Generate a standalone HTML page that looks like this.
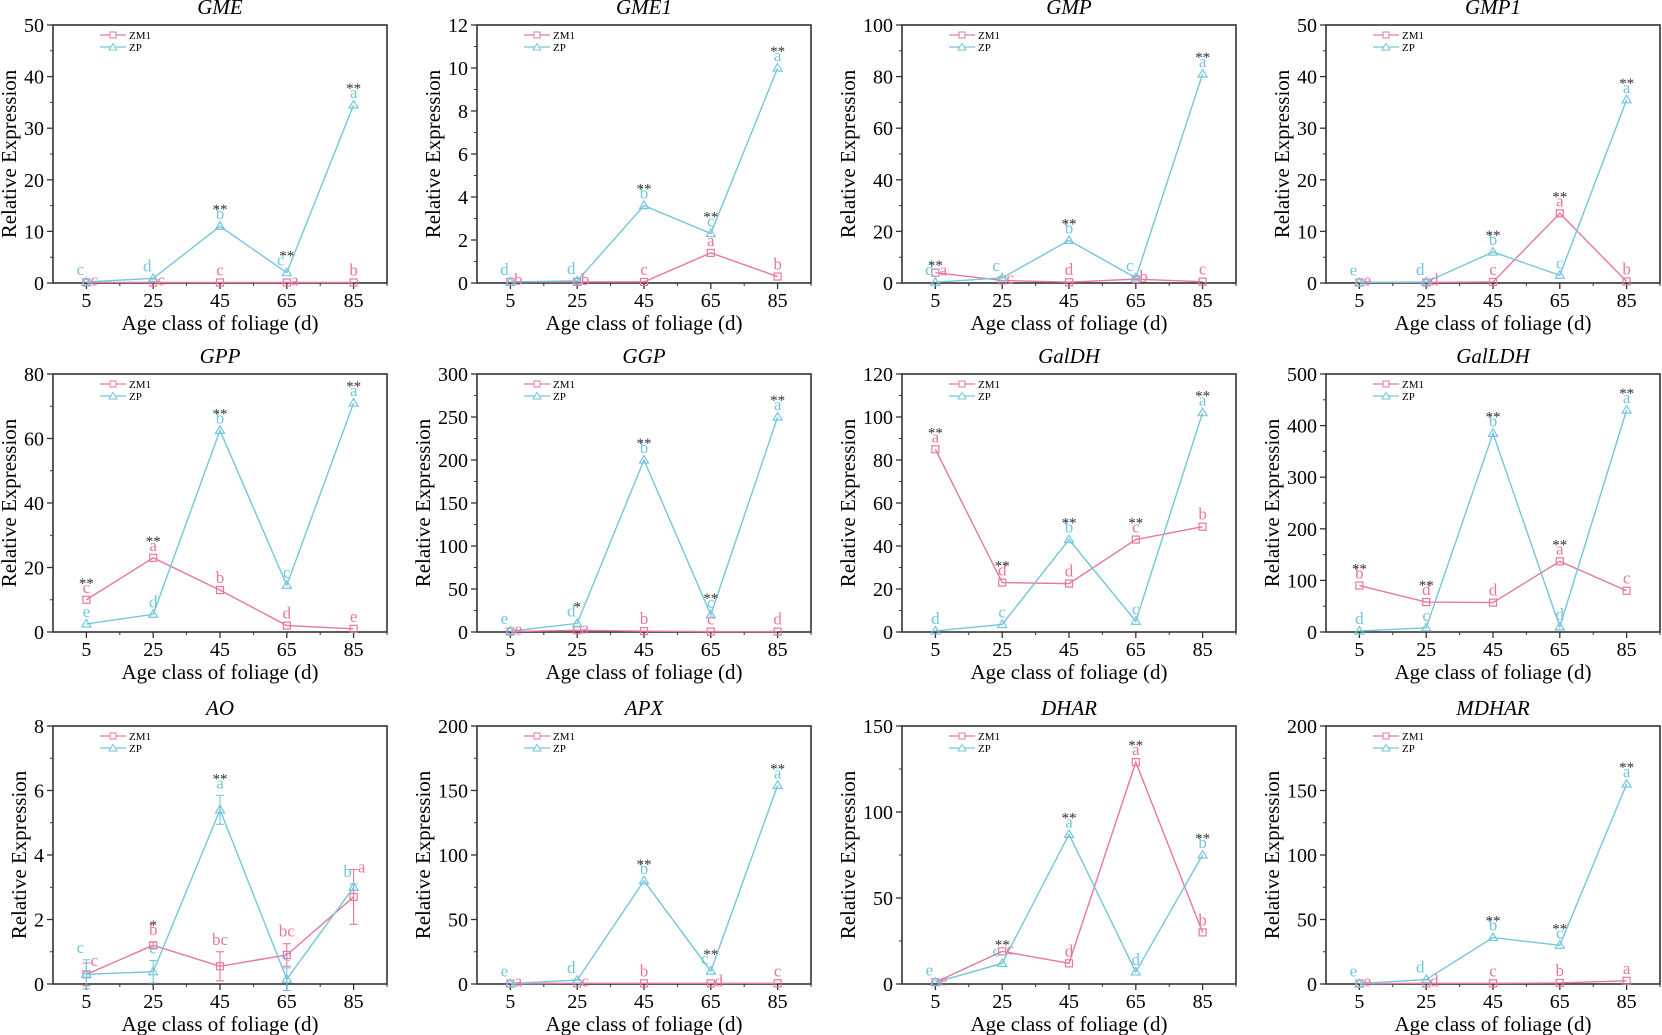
<!DOCTYPE html>
<html><head><meta charset="utf-8">
<style>
html,body{margin:0;padding:0;background:#fff;}
svg{display:block;font-family:"Liberation Serif",serif;}
svg text{font-family:"Liberation Serif",serif;}
</style></head>
<body>
<svg id="fig" width="1662" height="1035" viewBox="0 0 1662 1035"></svg>
<script>
const categories = [5, 25, 45, 65, 85];
const geneNames = ["GME","GME1","GMP","GMP1","GPP","GGP","GalDH","GalLDH","AO","APX","DHAR","MDHAR"];
const yMaxes = [50, 12, 100, 50, 80, 300, 120, 500, 8, 200, 150, 200];
const yStepsMajor = [10, 2, 20, 10, 20, 50, 20, 100, 2, 50, 50, 50];

const zm1GME = [0.1, 0.1, 0.1, 0.1, 0.1];
const zpGME = [0.2, 0.9, 11, 2, 34.5];
const zm1GME1 = [0.05, 0.05, 0.05, 1.4, 0.3];
const zpGME1 = [0.05, 0.1, 3.6, 2.3, 10];
const zm1GMP = [4, 1, 0.3, 1.5, 0.5];
const zpGMP = [0.3, 2, 16.5, 2, 81];
const zm1GMP1 = [0.1, 0.1, 0.2, 13.5, 0.3];
const zpGMP1 = [0.1, 0.2, 6, 1.5, 35.5];
const zm1GPP = [10, 23, 13, 2, 1];
const zpGPP = [2.5, 5.5, 62.5, 14.5, 71];
const zm1GGP = [0.5, 2, 1, 0.5, 0.5];
const zpGGP = [1, 10, 200, 20, 250];
const zm1GalDH = [85, 23, 22.5, 43, 49];
const zpGalDH = [0.5, 3.5, 43, 5, 102];
const zm1GalLDH = [90, 58, 57, 137, 80];
const zpGalLDH = [2, 8, 385, 10, 430];
const zm1AO = [0.3, 1.2, 0.55, 0.9, 2.7];
const zpAO = [0.3, 0.38, 5.4, 0.15, 3];
const zm1AOerr = [0.35, 0.1, 0.45, 0.35, 0.85];
const zpAOerr = [0.45, 0.35, 0.45, 0.35, 0.1];
const zm1APX = [0.3, 0.5, 0.5, 0.5, 0.5];
const zpAPX = [0.3, 3, 80, 10, 154];
const zm1DHAR = [1, 19, 12, 129, 30];
const zpDHAR = [1, 12, 87, 7, 75];
const zm1MDHAR = [0.3, 0.5, 0.5, 0.8, 2.5];
const zpMDHAR = [0.3, 3.5, 36, 30, 155];

const zm1Letters = [["c","c","c","a","b"],["b","b","c","a","b"],["a","c","d","b","c"],["e","d","c","a","b"],["c","a","b","d","e"],["e","a","b","c","d"],["a","d","d","c","b"],["b","d","d","a","c"],["c","b","bc","bc","a"],["a","c","b","d","c"],["e","c","d","a","b"],["e","d","c","b","a"]];
const zpLetters = [["c","d","b","c","a"],["d","d","b","c","a"],["d","c","b","c","a"],["e","d","b","c","a"],["e","d","b","c","a"],["e","d","b","c","a"],["d","c","b","c","a"],["d","c","b","d","a"],["c","c","a","c","b"],["e","d","b","c","a"],["e","c","a","d","b"],["e","d","b","c","a"]];
const stars = [["","","**","**","**"],["","","**","**","**"],["**","","**","","**"],["","","**","**","**"],["**","**","**","","**"],["","*","**","**","**"],["**","**","**","**","**"],["**","**","**","**","**"],["","*","**","",""],["","","**","**","**"],["","**","**","**","**"],["","","**","**","**"]];

const zm1Series = [zm1GME,zm1GME1,zm1GMP,zm1GMP1,zm1GPP,zm1GGP,zm1GalDH,zm1GalLDH,zm1AO,zm1APX,zm1DHAR,zm1MDHAR];
const zpSeries = [zpGME,zpGME1,zpGMP,zpGMP1,zpGPP,zpGGP,zpGalDH,zpGalLDH,zpAO,zpAPX,zpDHAR,zpMDHAR];

const PINK = "#e8779c", CYAN = "#74c6dc";
const NS = "http://www.w3.org/2000/svg";
const svg = document.getElementById("fig");
function mk(tag, attrs, parent, text){
  const e = document.createElementNS(NS, tag);
  for (const k in attrs) e.setAttribute(k, attrs[k]);
  if (text !== undefined) e.textContent = text;
  (parent || svg).appendChild(e);
  return e;
}
const colLeft = [53, 477, 902, 1326];
const rowTop = [25, 374, 726];
const W = 334, H = 258;

geneNames.forEach((name, i) => {
  const L = colLeft[i % 4], T = rowTop[Math.floor(i / 4)], B = T + H;
  const ymax = yMaxes[i], step = yStepsMajor[i];
  const xs = v => L + (v + 5) / 100 * W;
  const ys = v => B - v / ymax * H;
  const g = mk("g", {});
  
  

  const title = mk("text", {x: L + W / 2, y: T - 11, "text-anchor": "middle", "font-size": 21, "font-style": "italic"}, g, name);
  
  

  const frame = mk("rect", {x: L, y: T, width: W, height: H, fill: "none", stroke: "#333", "stroke-width": 1.6}, g);
  
  

  let maxChars = 1;
  for (let v = 0; v <= ymax + 1e-9; v += step) {
    const lab = String(Math.round(v * 100) / 100);
    maxChars = Math.max(maxChars, lab.length);
    mk("line", {x1: L - 6, x2: L, y1: ys(v), y2: ys(v), stroke: "#333", "stroke-width": 1.3}, g);
    const t = mk("text", {x: L - 9, y: ys(v) + 7, "text-anchor": "end", "font-size": 20}, g, lab);
    
    
    if (v + step / 2 < ymax) mk("line", {x1: L - 3, x2: L, y1: ys(v + step / 2), y2: ys(v + step / 2), stroke: "#333", "stroke-width": 1}, g);
  }
  categories.forEach(c => {
    mk("line", {x1: xs(c), x2: xs(c), y1: B, y2: B + 6, stroke: "#333", "stroke-width": 1.3}, g);
    const t = mk("text", {x: xs(c), y: B + 24, "text-anchor": "middle", "font-size": 20}, g, String(c));
    
    
    if (c < 85) mk("line", {x1: xs(c + 10), x2: xs(c + 10), y1: B, y2: B + 3, stroke: "#333", "stroke-width": 1}, g);
  });
  mk("line", {x1: xs(95), x2: xs(95), y1: B, y2: B + 3, stroke: "#333", "stroke-width": 1}, g);

  const xt = mk("text", {x: L + W / 2, y: B + 47, "text-anchor": "middle", "font-size": 21}, g, "Age class of foliage (d)");
  
  
  const ytx = L - 17 - maxChars * 10;
  const yt = mk("text", {x: 0, y: 0, "text-anchor": "middle", "font-size": 21, transform: `translate(${ytx},${T + H / 2}) rotate(-90)`}, g, "Relative Expression");
  
  

  [["ZM1", PINK, "sq"], ["ZP", CYAN, "tri"]].forEach((lg, k) => {
    const ly = T + 10 + k * 12;
    const lgG = mk("g", {}, g);
    
    
    mk("line", {x1: L + 47, x2: L + 73, y1: ly, y2: ly, stroke: lg[1], "stroke-width": 1.3}, lgG);
    if (lg[2] === "sq") mk("rect", {x: L + 57, y: ly - 3, width: 6, height: 6, fill: "#fff", stroke: lg[1]}, lgG);
    else mk("path", {d: `M${L+60},${ly-3.5} L${L+64},${ly+3} L${L+56},${ly+3} Z`, fill: "#fff", stroke: lg[1]}, lgG);
    mk("text", {x: L + 76, y: ly + 4, "font-size": 11}, lgG, lg[0]);
  });

  const drawSeries = (vals, color, kind, errs, label) => {
    const sg = mk("g", {}, g);
    
    
    const pts = vals.map((v, j) => `${xs(categories[j])},${ys(v)}`).join(" ");
    mk("polyline", {points: pts, fill: "none", stroke: color, "stroke-width": 1.4}, sg);
    vals.forEach((v, j) => {
      const x = xs(categories[j]), y = ys(v);
      if (errs) {
        const e = errs[j];
        mk("line", {x1: x, x2: x, y1: ys(v - e), y2: ys(v + e), stroke: color, "stroke-width": 1.1}, sg);
        mk("line", {x1: x - 4, x2: x + 4, y1: ys(v + e), y2: ys(v + e), stroke: color, "stroke-width": 1.1}, sg);
        mk("line", {x1: x - 4, x2: x + 4, y1: ys(v - e), y2: ys(v - e), stroke: color, "stroke-width": 1.1}, sg);
      }
      let m;
      if (kind === "sq") m = mk("rect", {x: x - 3.5, y: y - 3.5, width: 7, height: 7, fill: "none", stroke: color, "stroke-width": 1.2}, sg);
      else m = mk("path", {d: `M${x},${y-4.5} L${x+4.5},${y+3} L${x-4.5},${y+3} Z`, fill: "none", stroke: color, "stroke-width": 1.2}, sg);
      
      
    });
  };
  const errZm = i === 8 ? zm1AOerr : null, errZp = i === 8 ? zpAOerr : null;
  drawSeries(zm1Series[i], PINK, "sq", errZm, "zm1");
  drawSeries(zpSeries[i], CYAN, "tri", errZp, "zp");

  categories.forEach((c, j) => {
    const x = xs(c);
    const vz = zm1Series[i][j] + (errZm ? errZm[j] : 0);
    const vp = zpSeries[i][j] + (errZp ? errZp[j] : 0);
    const yz = ys(vz) - 7, yp = ys(vp) - 7;
    let pz = yz, pp = yp, dxz = 0, dxp = 0;
    if (Math.abs(yz - yp) < 16) { dxp = -6; dxz = 8; pz = yz + 10; pp = yp; }
    const tp = mk("text", {x: x + dxp, y: pp, "text-anchor": "middle", "font-size": 17, fill: CYAN}, g, zpLetters[i][j]);
    
    
    const tz = mk("text", {x: x + dxz, y: pz, "text-anchor": "middle", "font-size": 17, fill: PINK}, g, zm1Letters[i][j]);
    
    
    if (stars[i][j]) {
      const sy = Math.min(pp, pz) - 13;
      const st = mk("text", {x: x, y: sy + 8, "text-anchor": "middle", "font-size": 15, fill: "#333"}, g, stars[i][j]);
      
      
    }
  });
});
</script>
</body></html>
